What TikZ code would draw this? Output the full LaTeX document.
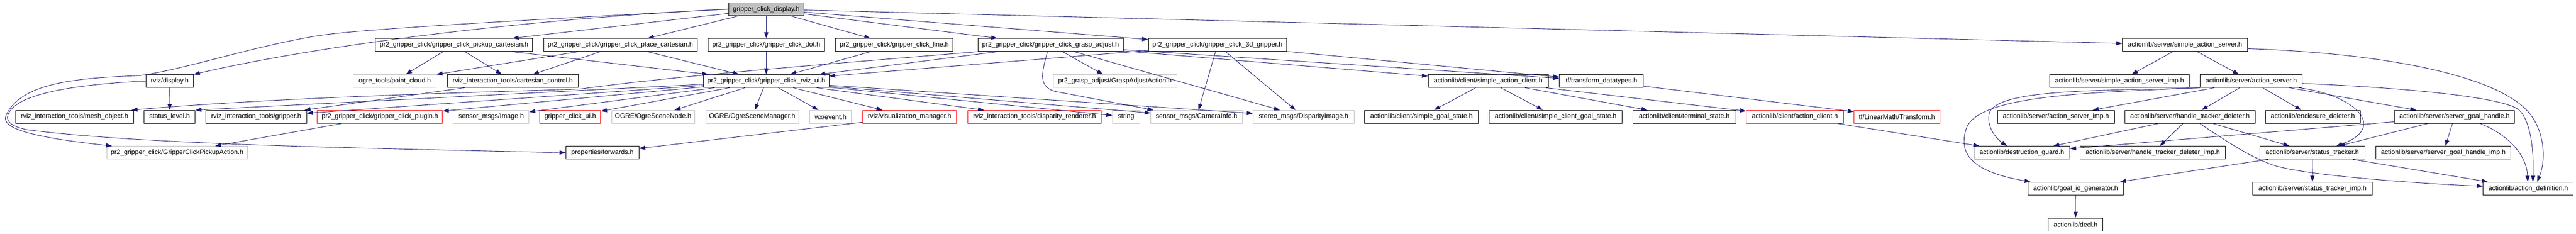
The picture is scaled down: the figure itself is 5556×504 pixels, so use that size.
\documentclass[tikz,border=0pt]{standalone}
\usepackage{fontspec}
\setmainfont{Liberation Sans}
\usetikzlibrary{arrows.meta, positioning}
\definecolor{edgeblue}{HTML}{191970}
\definecolor{extgray}{HTML}{BFBFBF}
\definecolor{cutred}{HTML}{FF0000}
\tikzset{> = { Triangle[length = 13pt, width = 9pt] }}

\begin{document}
\begin{tikzpicture}[x = 1pt, y = -1pt, ->, edgeblue, line width = 1pt,
		header/.style = { draw = black, text = black, rectangle, minimum height = 28pt, inner sep = 0pt, font = \fontsize{14.3}{16}\selectfont },
		topheader/.style = { header, fill = extgray },
		extheader/.style = { header, draw = extgray },
		cutheader/.style = { header, draw = cutred }]
		\useasboundingbox (0,0) rectangle (5556,504);

		\node [topheader, minimum width = 162.5pt] (gcd) at (1652.7,19.7) {gripper\_click\_display.h};

		\node [header, minimum width = 339pt]   (pickup) at (979.3,97)  {pr2\_gripper\_click/gripper\_click\_pickup\_cartesian.h};
		\node [header, minimum width = 331.3pt] (place)  at (1338,97)   {pr2\_gripper\_click/gripper\_click\_place\_cartesian.h};
		\node [header, minimum width = 251.8pt] (dot)    at (1652.7,97) {pr2\_gripper\_click/gripper\_click\_dot.h};
		\node [header, minimum width = 253.2pt] (line)   at (1928.8,97) {pr2\_gripper\_click/gripper\_click\_line.h};
		\node [header, minimum width = 313pt]   (grasp)  at (2265.9,97) {pr2\_gripper\_click/gripper\_click\_grasp\_adjust.h};
		\node [header, minimum width = 298.2pt] (grip3d) at (2625.9,97) {pr2\_gripper\_click/gripper\_click\_3d\_gripper.h};
		\node [header, minimum width = 269.6pt] (sas)    at (4712.5,97) {actionlib/server/simple\_action\_server.h};

		\node [header, minimum width = 102.7pt]    (rvizdisp) at (366,174.8)    {rviz/display.h};
		\node [extheader, minimum width = 179pt]   (ogrepc)   at (851.5,174.8)  {ogre\_tools/point\_cloud.h};
		\node [header, minimum width = 282.6pt]    (cartctl)  at (1106,174.8)   {rviz\_interaction\_tools/cartesian\_control.h};
		\node [header, minimum width = 270.5pt]    (rvizui)   at (1652.7,174.8) {pr2\_gripper\_click/gripper\_click\_rviz\_ui.h};
		\node [extheader, minimum width = 266.5pt] (graspact) at (2404.7,174.8) {pr2\_grasp\_adjust/GraspAdjustAction.h};
		\node [header, minimum width = 258.9pt]    (sac)      at (3209.8,174.8) {actionlib/client/simple\_action\_client.h};
		\node [header, minimum width = 181.2pt]    (tfdt)     at (3454,174.8)   {tf/transform\_datatypes.h};
		\node [header, minimum width = 301.8pt]    (sasimp)   at (4571.4,174.8) {actionlib/server/simple\_action\_server\_imp.h};
		\node [header, minimum width = 219.9pt]    (aserv)    at (4855.4,174.8) {actionlib/server/action\_server.h};

		\node [header, minimum width = 254.5pt]    (mesh)      at (160.7,251.8)  {rviz\_interaction\_tools/mesh\_object.h};
		\node [header, minimum width = 110.3pt]    (status)    at (365.8,251.8)  {status\_level.h};
		\node [header, minimum width = 217.4pt]    (gripper)   at (552.5,251.8)  {rviz\_interaction\_tools/gripper.h};
		\node [cutheader, minimum width = 270.1pt] (plugin)    at (819.4,251.8)  {pr2\_gripper\_click/gripper\_click\_plugin.h};
		\node [extheader, minimum width = 163.4pt] (image)     at (1059.4,251.8) {sensor\_msgs/Image.h};
		\node [cutheader, minimum width = 131.2pt] (clickui)   at (1229.9,251.8) {gripper\_click\_ui.h};
		\node [extheader, minimum width = 179pt]   (scenenode) at (1408.7,251.8) {OGRE/OgreSceneNode.h};
		\node [extheader, minimum width = 200pt]   (scenemgr)  at (1622.3,251.8) {OGRE/OgreSceneManager.h};
		\node [extheader, minimum width = 90.6pt]  (wxevent)   at (1791.3,251.8) {wx/event.h};
		\node [cutheader, minimum width = 203.1pt] (vizmgr)    at (1961.8,251.8) {rviz/visualization\_manager.h};
		\node [cutheader, minimum width = 287.5pt] (disprend)  at (2231.2,251.8) {rviz\_interaction\_tools/disparity\_renderer.h};
		\node [extheader, minimum width = 58.5pt]  (string)    at (2428.8,251.8) {string};
		\node [extheader, minimum width = 197.3pt] (caminfo)   at (2580.8,251.8) {sensor\_msgs/CameraInfo.h};
		\node [extheader, minimum width = 217.8pt] (dispimg)   at (2811.6,251.8) {stereo\_msgs/DisparityImage.h};
		\node [header, minimum width = 245.5pt]    (sgoal)     at (3066,251.8)   {actionlib/client/simple\_goal\_state.h};
		\node [header, minimum width = 286.6pt]    (scgoal)    at (3355.4,251.8) {actionlib/client/simple\_client\_goal\_state.h};
		\node [header, minimum width = 222.8pt]    (terminal)  at (3632.8,251.8) {actionlib/client/terminal\_state.h};
		\node [cutheader, minimum width = 209.4pt] (aclient)   at (3871.2,251.8) {actionlib/client/action\_client.h};
		\node [cutheader, minimum width = 185.3pt] (lmtrans)   at (4091.3,251.8) {tf/LinearMath/Transform.h};
		\node [header, minimum width = 252.2pt]    (asimp)     at (4434.2,251.8) {actionlib/server/action\_server\_imp.h};
		\node [header, minimum width = 281.7pt]    (htdel)     at (4723.4,251.8) {actionlib/server/handle\_tracker\_deleter.h};
		\node [header, minimum width = 204pt]      (encldel)   at (4988.4,251.8) {actionlib/enclosure\_deleter.h};
		\node [header, minimum width = 258.9pt]    (sgh)       at (5294,251.8)   {actionlib/server/server\_goal\_handle.h};

		\node [extheader, minimum width = 303.1pt] (pickact)  at (381.9,329.2)  {pr2\_gripper\_click/GripperClickPickupAction.h};
		\node [header, minimum width = 157.6pt]    (fwd)      at (1299.3,329.2) {properties/forwards.h};
		\node [header, minimum width = 207.2pt]    (dguard)   at (4360.7,329.2) {actionlib/destruction\_guard.h};
		\node [header, minimum width = 313pt]      (htdimp)   at (4643.1,329.2) {actionlib/server/handle\_tracker\_deleter\_imp.h};
		\node [header, minimum width = 226.8pt]    (stracker) at (4987.2,329.2) {actionlib/server/status\_tracker.h};
		\node [header, minimum width = 290.2pt]    (sghimp)   at (5269.8,329.2) {actionlib/server/server\_goal\_handle\_imp.h};

		\node [header, minimum width = 205.4pt] (goalid)    at (4476.8,406.5) {actionlib/goal\_id\_generator.h};
		\node [header, minimum width = 258.5pt] (strackimp) at (4987.5,406.5) {actionlib/server/status\_tracker\_imp.h};
		\node [header, minimum width = 194.6pt] (actdef)    at (5452.9,406.5) {actionlib/action\_definition.h};

		\node [header, minimum width = 117.4pt] (decl) at (4476.6,484) {actionlib/decl.h};

		\draw (gcd.west) .. controls (1150,40) and (700,95) .. (rvizdisp.north east);
		\draw (gcd.west) .. controls (1100,45) and (800,62) .. (700,75) .. controls (560,95) and (400,150) .. (300,163) .. controls (180,168) and (50,175) .. (15,245) .. controls (-5,275) and (60,295) .. ([xshift = 12pt]pickact.north west);
		\draw (gcd) -- (pickup);
		\draw (gcd) -- (place);
		\draw (gcd) -- (dot);
		\draw (gcd) -- (line);
		\draw (gcd) -- (grasp);
		\draw (gcd) -- (grip3d);
		\draw (gcd) -- (sas);

		\draw (pickup) -- (ogrepc);
		\draw (pickup) -- (cartctl);
		\draw (pickup) -- (rvizui);
		\draw (place) -- (ogrepc);
		\draw (place) -- (cartctl);
		\draw (place) -- (rvizui);
		\draw (dot) -- (rvizui);
		\draw (line) -- (rvizui);
		\draw (grasp) -- (rvizui);
		\draw (grasp.south west) .. controls (1700,145) and (1450,165) .. (1250,192) .. controls (1000,200) and (600,210) .. ([xshift = -5pt]mesh.north east);
		\draw (grasp) -- (graspact);
		\draw ([xshift = -7pt]grasp.south) .. controls (2250,150) and (2235,185) .. (2275,197) -- ([xshift = 6pt]caminfo.north west);
		\draw (grasp) -- (dispimg);
		\draw (grasp) -- (sac);
		\draw (grasp) -- (tfdt);
		\draw (grip3d) -- (rvizui);
		\draw (grip3d) -- (caminfo);
		\draw (grip3d) -- (dispimg);
		\draw (grip3d) -- (tfdt);
		\draw (sas) -- (sasimp);
		\draw (sas) -- (aserv);
		\draw ([yshift = -8pt]sas.east) .. controls (5150,115) and (5400,165) .. (5460,250) .. controls (5490,292) and (5490,350) .. ([xshift = 19pt]actdef.north);

		\draw (rvizdisp) -- (status);
		\draw (rvizdisp.west) .. controls (200,180) and (60,195) .. (25,235) .. controls (5,258) and (20,272) .. (60,280) .. controls (300,310) and (700,318) .. (fwd.west);
		\draw (cartctl) -- (gripper);
		\draw (rvizui) -- (status.north east);
		\draw (rvizui) -- (gripper);
		\draw (rvizui) -- (plugin);
		\draw (rvizui) -- (image);
		\draw (rvizui) -- (clickui);
		\draw (rvizui) -- (scenenode);
		\draw (rvizui) -- (scenemgr);
		\draw (rvizui) -- (wxevent);
		\draw (rvizui) -- (vizmgr);
		\draw (rvizui) -- (disprend);
		\draw (rvizui) -- (string);
		\draw (rvizui) -- (caminfo);
		\draw (rvizui) -- (dispimg);
		\draw (sac) -- (sgoal);
		\draw (sac) -- (scgoal);
		\draw (sac) -- (terminal);
		\draw (sac) -- (aclient);
		\draw (tfdt) -- (lmtrans);
		\draw (aserv) -- (asimp);
		\draw (aserv) -- (htdel);
		\draw (aserv) -- (encldel);
		\draw (aserv) -- (sgh);
		\draw (aserv.south west) .. controls (4550,196) and (4320,190) .. (4292,240) .. controls (4282,265) and (4300,295) .. ([xshift = 72pt]dguard.north west);
		\draw (aserv.south west) .. controls (4500,200) and (4260,205) .. (4240,280) .. controls (4225,330) and (4250,370) .. ([xshift = 6pt]goalid.north west);
		\draw ([xshift = -7pt]aserv.south east) .. controls (5080,205) and (5150,275) .. ([xshift = 52pt]stracker.north);
		\draw ([yshift = -5pt]aserv.east) .. controls (5200,190) and (5400,210) .. (5433,237) .. controls (5462,265) and (5465,340) .. ([xshift = 10pt]actdef.north);

		\draw (plugin) -- (pickact);
		\draw (vizmgr) -- (fwd);
		\draw (aclient) -- (dguard);
		\draw (htdel) -- (dguard);
		\draw (htdel) -- (htdimp);
		\draw (htdel) -- (stracker);
		\draw ([xshift = 21pt]htdel.south) .. controls (4790,296) and (4845,335) .. (4900,355) .. controls (4960,377) and (5200,395) .. ([yshift = 5pt]actdef.west);
		\draw (sgh) -- (dguard);
		\draw (sgh) -- (stracker);
		\draw (sgh) -- (sghimp);
		\draw ([xshift = 55pt]sgh.south) .. controls (5410,290) and (5450,335) .. ([xshift = -1pt]actdef.north);

		\draw (stracker) -- (strackimp);
		\draw (stracker) -- (actdef);
		\draw (stracker) -- (goalid);
		\draw (goalid) -- (decl);
	\end{tikzpicture}
\end{document}
